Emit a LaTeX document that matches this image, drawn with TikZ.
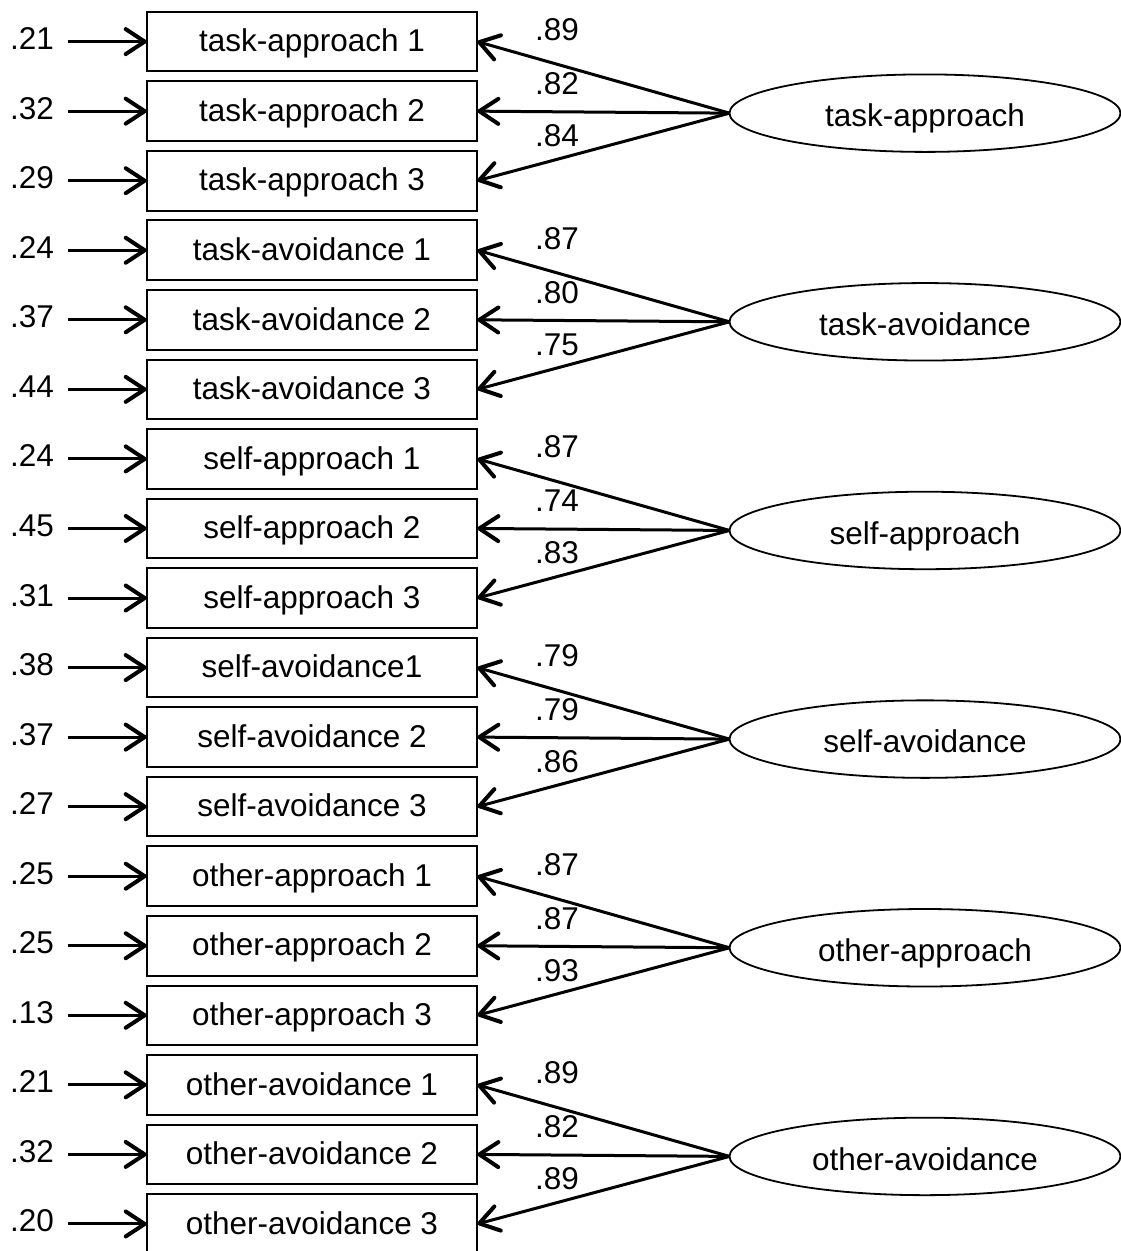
\documentclass[tikz,border=0pt]{standalone}
\usepackage{fontspec}
\setmainfont{Liberation Sans}
\usetikzlibrary{arrows.meta,shapes.geometric}

\begin{document}
\begin{tikzpicture}[x=1pt,y=-1pt,
  every node/.style={font=\fontsize{31.5}{36}\selectfont},
  itembox/.style={draw, line width=2pt, rectangle, minimum width=330.6pt,
    minimum height=59.6pt, inner sep=0pt, outer sep=0pt,
    text height=22pt, text depth=1.6pt},
  latent/.style={draw, line width=1.8pt, ellipse, minimum width=391pt,
    minimum height=77.5pt, inner sep=0pt, outer sep=0pt,
    text height=27.5pt, text depth=0pt},
  errlabel/.style={inner xsep=14pt, inner ysep=0pt, outer sep=0pt,
    text height=22pt, text depth=6pt},
  loadlabel/.style={inner sep=0pt, text height=23pt, text depth=0pt},
  patharrow/.style={line width=3pt,
    -{Straight Barb[length=19pt,width=25pt,line width=4pt,round]}},
]
\fill[white] (0,0) rectangle (1120,1251);
\useasboundingbox (0,0) rectangle (1120,1251);

% observed indicators with their error variances
\foreach \i/\txt/\err in {
  1/task-approach 1/.21, 2/task-approach 2/.32, 3/task-approach 3/.29,
  4/task-avoidance 1/.24, 5/task-avoidance 2/.37, 6/task-avoidance 3/.44,
  7/self-approach 1/.24, 8/self-approach 2/.45, 9/self-approach 3/.31,
  10/self-avoidance1/.38, 11/self-avoidance 2/.37, 12/self-avoidance 3/.27,
  13/other-approach 1/.25, 14/other-approach 2/.25, 15/other-approach 3/.13,
  16/other-avoidance 1/.21, 17/other-avoidance 2/.32, 18/other-avoidance 3/.20}{
  \pgfmathsetmacro\yy{41.6+69.55*(\i-1)}
  \node[itembox] (b\i) at (312,\yy) {\txt};
  \node[errlabel] (e\i) at (32,\yy) {\err};
  \draw[patharrow] (e\i.east) -- (b\i.west);
}

% latent factors and their loadings
\foreach \g/\name/\la/\lb/\lc in {
  0/task-approach/.89/.82/.84,
  1/task-avoidance/.87/.80/.75,
  2/self-approach/.87/.74/.83,
  3/self-avoidance/.79/.79/.86,
  4/other-approach/.87/.87/.93,
  5/other-avoidance/.89/.82/.89}{
  \pgfmathtruncatemacro\ia{3*\g+1}
  \pgfmathtruncatemacro\ib{3*\g+2}
  \pgfmathtruncatemacro\ic{3*\g+3}
  \pgfmathsetmacro\ym{41.6+69.55*(3*\g+1)}
  \node[latent] (l\g) at (925,\ym+2) {\name};
  \draw[patharrow] (l\g.west) -- (b\ia.east);
  \draw[patharrow] (l\g.west) -- (b\ib.east);
  \draw[patharrow] (l\g.west) -- (b\ic.east);
  \node[loadlabel] (la\g) at (557,\ym-82) {\la};
  \node[loadlabel] (lb\g) at (557,\ym-28) {\lb};
  \node[loadlabel] (lc\g) at (557,\ym+24) {\lc};
}
\end{tikzpicture}
\end{document}
